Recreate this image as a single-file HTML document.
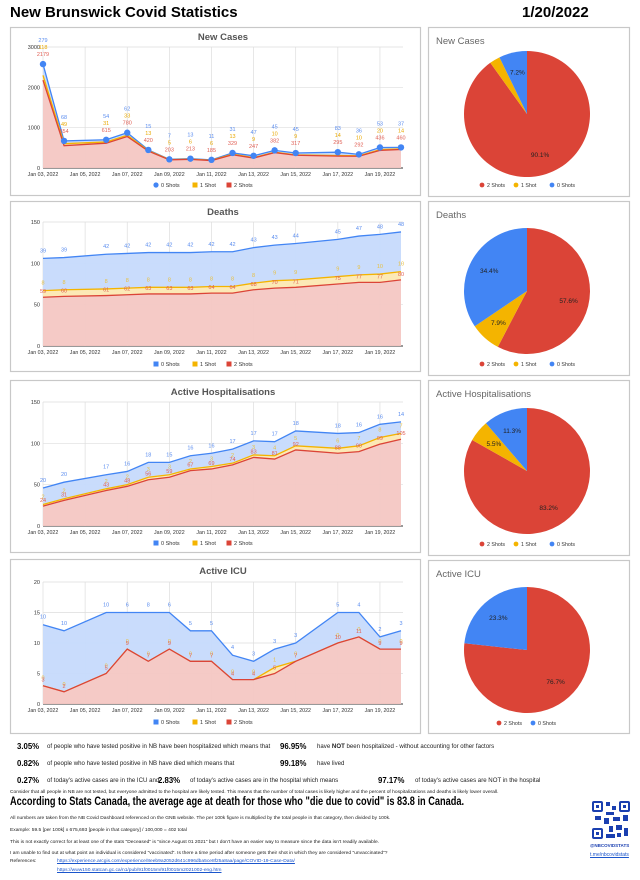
<!DOCTYPE html>
<html><head><meta charset="utf-8"><style>
body{margin:0;width:640px;height:880px;background:#fff;overflow:hidden;font-family:"Liberation Sans",Arial,sans-serif;position:relative}
.abs{position:absolute;white-space:nowrap}
.sm{font-size:4.9px;color:#222}
.st{font-size:6.1px;color:#222}
.pct{font-size:7.8px;font-weight:bold}
a{color:#1a55cc}
</style></head><body>
<div class="abs" style="left:10px;top:4px;font-size:15px;font-weight:bold">New Brunswick Covid Statistics</div>
<div class="abs" style="left:522px;top:4px;font-size:15px;font-weight:bold">1/20/2022</div>
<svg id="svg" width="640" height="740" style="position:absolute;left:0;top:0" font-family="Liberation Sans, Arial, sans-serif"></svg>

<div class="abs pct" style="left:17px;top:742px">3.05%</div>
<div class="abs st" style="left:47px;top:743px">of people who have tested positive in NB have been hospitalized which means that</div>
<div class="abs pct" style="left:280px;top:742px">96.95%</div>
<div class="abs st" style="left:317px;top:743px">have <b>NOT</b> been hospitalized - without accounting for other factors</div>
<div class="abs pct" style="left:17px;top:759px">0.82%</div>
<div class="abs st" style="left:47px;top:760px">of people who have tested positive in NB have died which means that</div>
<div class="abs pct" style="left:280px;top:759px">99.18%</div>
<div class="abs st" style="left:317px;top:760px">have lived</div>
<div class="abs pct" style="left:17px;top:776px">0.27%</div>
<div class="abs st" style="left:47px;top:777px">of today's active cases are in the ICU and</div>
<div class="abs pct" style="left:158px;top:776px">2.83%</div>
<div class="abs st" style="left:190px;top:777px">of today's active cases are in the hospital which means</div>
<div class="abs pct" style="left:378px;top:776px">97.17%</div>
<div class="abs st" style="left:415px;top:777px">of today's active cases are NOT in the hospital</div>
<div class="abs sm" style="left:10px;top:790px">Consider that all people in NB are not tested, but everyone admitted to the hospital are likely tested. This means that the number of total cases is likely higher and the percent of hospitalizations and deaths is likely lower overall.</div>
<div class="abs" style="left:10px;top:796px;font-size:11.5px;font-weight:bold;transform:scaleX(0.8);transform-origin:0 0">According to Stats Canada, the average age at death for those who "die due to covid" is 83.8 in Canada.</div>
<div class="abs sm" style="left:10px;top:816px">All numbers are taken from the NB Covid Dashboard referenced on the GNB website. The per 100k figure is multiplied by the total people in that category, then divided by 100k.</div>
<div class="abs sm" style="left:10px;top:828px">Example: 59.5 [per 100k] x 675,693 [people in that category] / 100,000 = 402 total</div>
<div class="abs sm" style="left:10px;top:840px">This is not exactly correct for at least one of the stats "Deceased" is "since August 01 2021" but I don't have an easier way to measure since the data isn't readily available.</div>
<div class="abs sm" style="left:10px;top:851px">I am unable to find out at what point an individual is considered "vaccinated". Is there a time period after someone gets their shot in which they are considered "unvaccinated"?</div>
<div class="abs sm" style="left:10px;top:859px">References:</div>
<a class="abs sm" style="left:57px;top:859px;color:#1a55cc" href="#">https://experience.arcgis.com/experience/8eeb9a2052d641c996dba5ce8f25a8aa/page/COVID-19-Case-Data/</a>
<a class="abs sm" style="left:57px;top:868px;color:#1a55cc" href="#">https://www150.statcan.gc.ca/n1/pub/91f0015m/91f0015m2021002-eng.htm</a>
<svg class="abs" style="left:591px;top:800px" width="40" height="40">
<rect width="40" height="40" fill="#fff"/>
<g fill="#1a3fb0"><rect x="1" y="1" width="11" height="11" rx="2"/><rect x="28" y="1" width="11" height="11" rx="2"/><rect x="1" y="28" width="11" height="11" rx="2"/>
<rect x="15" y="2" width="4" height="4"/><rect x="21" y="6" width="4" height="4"/><rect x="15" y="12" width="8" height="3"/><rect x="4" y="16" width="6" height="4"/><rect x="13" y="18" width="5" height="6"/><rect x="22" y="17" width="7" height="4"/><rect x="32" y="15" width="5" height="6"/><rect x="18" y="26" width="4" height="6"/><rect x="25" y="25" width="6" height="5"/><rect x="33" y="28" width="4" height="8"/><rect x="15" y="34" width="9" height="4"/><rect x="26" y="33" width="4" height="4"/></g>
<g fill="#fff"><rect x="3" y="3" width="7" height="7"/><rect x="30" y="3" width="7" height="7"/><rect x="3" y="30" width="7" height="7"/></g>
<g fill="#1a3fb0"><rect x="5" y="5" width="3" height="3"/><rect x="32" y="5" width="3" height="3"/><rect x="5" y="32" width="3" height="3"/></g>
</svg>
<div class="abs" style="left:590px;top:843px;font-size:4.5px;font-weight:bold;color:#1a3fb0">@NBCOVIDSTATS</div>
<div class="abs" style="left:590px;top:852px;font-size:5px;color:#1a55cc;text-decoration:underline">t.me/nbcovidstats</div>

<script>
// ---- data ----
const dayOffsets = [0,1,3,4,5,6,7,8,9,10,11,12,14,15,16,17];
const dateTickLabels = ["Jan 03, 2022","Jan 05, 2022","Jan 07, 2022","Jan 09, 2022","Jan 11, 2022","Jan 13, 2022","Jan 15, 2022","Jan 17, 2022","Jan 19, 2022"];
const casesTwo  = [2179,554,615,780,420,203,213,185,329,247,382,317,295,292,436,460];
const casesOne  = [118,49,31,33,13,5,6,6,13,9,10,9,14,10,20,14];
const casesZero = [279,68,54,62,15,7,13,11,31,47,45,45,83,36,53,37];
const deathsTwo  = [59,60,61,62,63,63,63,64,64,68,70,71,75,77,77,80];
const deathsOne  = [8,8,8,8,8,8,8,8,8,8,9,9,9,9,10,10];
const deathsZero = [39,39,42,42,42,42,42,42,42,43,43,44,45,47,48,48];
const hospTwo  = [24,31,43,48,56,59,67,69,74,83,81,92,88,90,99,105];
const hospOne  = [2,2,2,2,3,3,2,3,2,3,4,5,6,7,8,7];
const hospZero = [20,20,17,16,18,15,16,16,17,17,17,18,18,16,16,14];
const icuTwo  = [3,2,5,9,7,9,7,7,4,4,5,7,10,11,9,9];
const icuOne  = [0,0,0,0,0,0,0,0,0,0,1,0,0,0,0,0];
const icuZero = [10,10,10,6,8,6,5,5,4,3,3,3,5,4,2,3];
const casesTicks = [0,1000,2000,3000];
const deathsTicks = [0,50,100,150];
const hospTicks = [0,50,100,150];
const icuTicks = [0,5,10,15,20];
const pieCases = [90.1,2.7,7.2];
const pieDeaths = [57.6,7.9,34.4];
const pieHosp = [83.2,5.5,11.3];
const pieIcu = [76.7,0,23.3];

const NS="http://www.w3.org/2000/svg";
const svg=document.getElementById('svg');
function mk(tag,attrs,parent){
  const e=document.createElementNS(NS,tag);
  for(const k in attrs)e.setAttribute(k,attrs[k]);
  (parent||svg).appendChild(e);
  return e;
}
const RED="#db4437",YEL="#f4b400",BLU="#4285f4";
const FR="#f4c7c3",FY="#fce8b2",FB="#c6dafc";

function panel(x,y,w,h,name){
  const r=mk('rect',{x:x+.5,y:y+.5,width:w,height:h,fill:'#fff',stroke:'#c8c8c8','stroke-width':1.2});
  
  
}

function areaChart(o){
  const X0=43,X1=401,top=o.top,bot=o.bot,max=o.ticks[o.ticks.length-1];
  const xs=d=>X0+d*(X1-X0)/17;
  const ys=v=>bot-(v/max)*(bot-top);
  panel(10,o.py,410,o.ph,o.name+'-panel');
  const t=mk('text',{x:223,y:o.ty,'text-anchor':'middle','font-size':9.5,'font-weight':'bold',fill:'#555'});
  t.textContent=o.title;
  
  
  o.ticks.forEach(v=>{
    mk('line',{x1:X0,x2:403,y1:ys(v),y2:ys(v),stroke:v===0?'#333':'#ddd','stroke-width':v===0?1:.7});
    const tx=mk('text',{x:X0-3,y:ys(v)+2,'text-anchor':'end','font-size':5.5,fill:'#333'});
    tx.textContent=v;
    
    
  });
  dateTickLabels.forEach((lab,i)=>{
    mk('line',{x1:xs(i*2),x2:xs(i*2),y1:top,y2:bot,stroke:'#ddd','stroke-width':.7});
    const tx=mk('text',{x:xs(i*2),y:bot+8,'text-anchor':'middle','font-size':5.3,fill:'#333'});
    tx.textContent=lab;
    
    
  });
  const s1=o.two.map((v,i)=>v+o.one[i]);
  const s0=s1.map((v,i)=>v+o.zero[i]);
  const layers=[[s0,s1,FB,BLU,'zero-shots-area'],[s1,o.two,FY,YEL,'one-shot-area'],[o.two,null,FR,RED,'two-shots-area']];
  layers.forEach(([hi,lo,fill,stroke,nm])=>{
    let d='M'+dayOffsets.map((dd,i)=>xs(dd)+','+ys(hi[i])).join('L');
    if(lo){for(let i=dayOffsets.length-1;i>=0;i--)d+='L'+xs(dayOffsets[i])+','+ys(lo[i]);}
    else d+='L'+xs(17)+','+bot+'L'+xs(0)+','+bot;
    const p=mk('path',{d:d+'Z',fill:fill,opacity:.95});
    
    
    const ln=mk('polyline',{points:dayOffsets.map((dd,i)=>xs(dd)+','+ys(hi[i])).join(' '),fill:'none',stroke:stroke,'stroke-width':1.3});
    
    
  });
  if(o.dots){dayOffsets.forEach((dd,i)=>{
    const c=mk('circle',{cx:xs(dd),cy:ys(s0[i]),r:3.2,fill:BLU});
    
    
  });}
  dayOffsets.forEach((dd,i)=>{
    const specs=o.stackLabels?
      [[o.zero[i],ys(s0[i])-22,'#5b8def'],[o.one[i],ys(s0[i])-15,'#e8a800'],[o.two[i],ys(s0[i])-8,'#e06055']]:
      [[o.zero[i],ys(s0[i])-6,'#5b8def'],[o.one[i],ys(s1[i])-6,'#e8c040'],[o.two[i],ys(o.two[i])-4,'#e06055']];
    specs.forEach(([v,y,c])=>{
      const tx=mk('text',{x:xs(dd),y:Math.max(y,top-6),'text-anchor':'middle','font-size':5.5,fill:c});
      tx.textContent=v;
      
      
    });
  });
  const ly=o.ly;
  [['0 Shots',BLU,o.dots],['1 Shot',YEL,false],['2 Shots',RED,false]].forEach(([lab,c,circ],k)=>{
    const lx=[156,195,229][k];
    if(circ)mk('circle',{cx:lx,cy:ly,r:2.6,fill:c});else mk('rect',{x:lx-2.5,y:ly-2.5,width:5,height:5,fill:c});
    const tx=mk('text',{x:lx+5,y:ly+2,'font-size':5.5,fill:'#333'});
    tx.textContent=lab;
    
    
  });
}
areaChart({name:'new-cases',title:'New Cases',py:27,ph:168,ty:40,top:47,bot:168,ly:185,ticks:casesTicks,two:casesTwo,one:casesOne,zero:casesZero,dots:true,stackLabels:true});
areaChart({name:'deaths',title:'Deaths',py:201,ph:170,ty:215,top:222,bot:346,ly:364,ticks:deathsTicks,two:deathsTwo,one:deathsOne,zero:deathsZero});
areaChart({name:'hospitalisations',title:'Active Hospitalisations',py:380,ph:172,ty:395,top:402,bot:526,ly:543,ticks:hospTicks,two:hospTwo,one:hospOne,zero:hospZero});
areaChart({name:'icu',title:'Active ICU',py:559,ph:174,ty:574,top:582,bot:704,ly:722,ticks:icuTicks,two:icuTwo,one:icuOne,zero:icuZero});

function pie(o){
  panel(428,o.py,201,o.ph,o.name+'-pie-panel');
  const t=mk('text',{x:436,y:o.py+17,'font-size':9.5,fill:'#666'});
  t.textContent=o.title;
  
  
  const cx=527,cy=o.cy,r=63;
  const tot=o.vals.reduce((a,b)=>a+b,0);
  let a0=-Math.PI/2;
  const cols=[RED,YEL,BLU],nms=['two-shots','one-shot','zero-shots'];
  o.vals.forEach((v,i)=>{
    if(v<=0)return;
    const a1=a0+v/tot*2*Math.PI;
    const large=(a1-a0)>Math.PI?1:0;
    const d=`M${cx},${cy}L${cx+r*Math.cos(a0)},${cy+r*Math.sin(a0)}A${r},${r} 0 ${large} 1 ${cx+r*Math.cos(a1)},${cy+r*Math.sin(a1)}Z`;
    const p=mk('path',{d:d,fill:cols[i]});
    
    
    if(v>=5){
      const am=(a0+a1)/2,lr=r*0.68;
      const tx=mk('text',{x:cx+lr*Math.cos(am),y:cy+lr*Math.sin(am)+2,'text-anchor':'middle','font-size':6.5,fill:'#222'});
      tx.textContent=v.toFixed(1)+'%';
      
      
    }
    a0=a1;
  });
  const ents=o.icu?[['2 Shots',RED],['0 Shots',BLU]]:[['2 Shots',RED],['1 Shot',YEL],['0 Shots',BLU]];
  const xsL=o.icu?[499,533]:[482,516,552];
  ents.forEach(([lab,c],k)=>{
    mk('circle',{cx:xsL[k],cy:o.ly,r:2.4,fill:c});
    const tx=mk('text',{x:xsL[k]+5,y:o.ly+2,'font-size':5.3,fill:'#333'});
    tx.textContent=lab;
    
    
  });
}
pie({name:'new-cases',title:'New Cases',py:27,ph:169,cy:114,ly:185,vals:pieCases});
pie({name:'deaths',title:'Deaths',py:201,ph:174,cy:291,ly:364,vals:pieDeaths});
pie({name:'hospitalisations',title:'Active Hospitalisations',py:380,ph:175,cy:471,ly:544,vals:pieHosp});
pie({name:'icu',title:'Active ICU',py:560,ph:173,cy:650,ly:723,vals:pieIcu,icu:true});
</script>
</body></html>
